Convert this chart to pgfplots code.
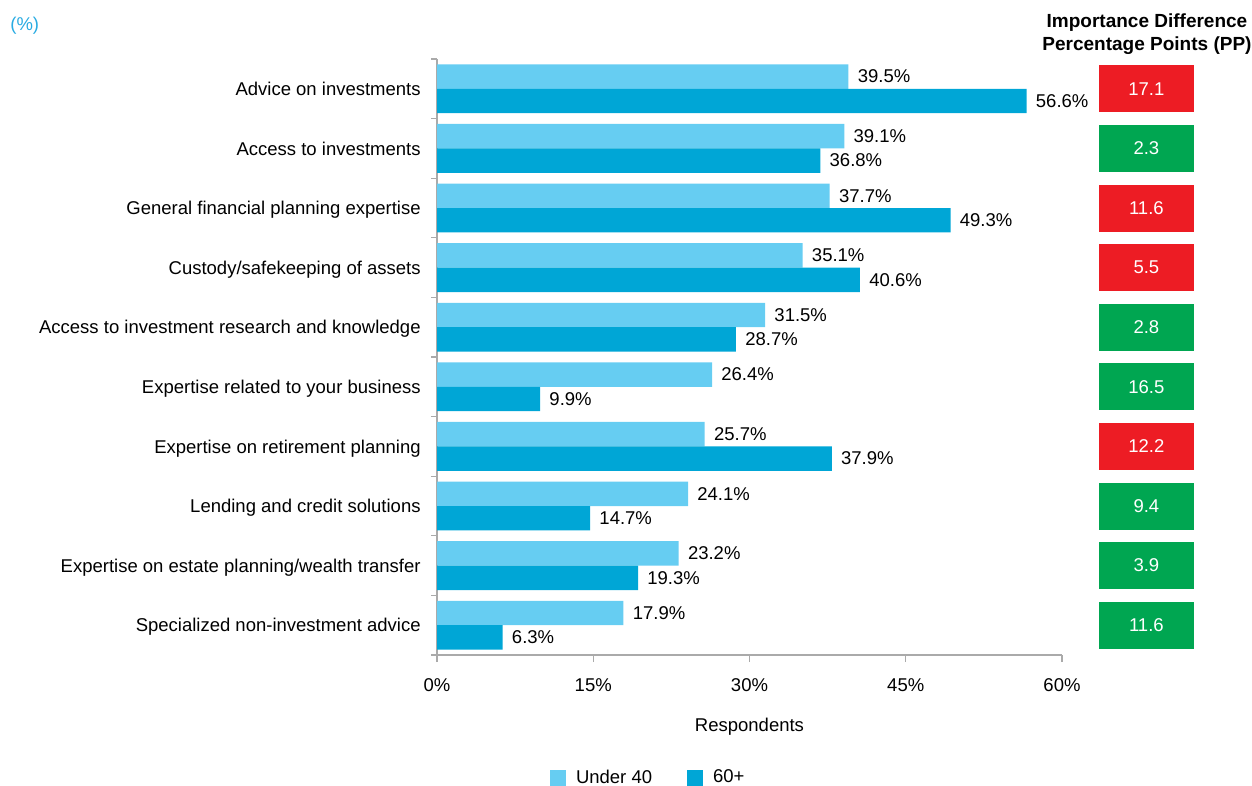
\documentclass[border=0pt]{standalone}
\usepackage{pgfplots}
\pgfplotsset{compat=1.18}
\usepackage{pgfplotstable}
\usepackage{fontspec}
\setmainfont{Liberation Sans}

\definecolor{underc}{RGB}{102,205,242}
\definecolor{sixtyc}{RGB}{0,166,214}
\definecolor{boxred}{RGB}{237,28,36}
\definecolor{boxgreen}{RGB}{0,166,81}
\definecolor{axisgray}{RGB}{170,170,170}
\definecolor{pctcyan}{RGB}{41,171,226}
\newcommand{\f}{\fontsize{18.5}{22}\selectfont}

% y: 9 = top row
\pgfplotstableread{
y under sixty
9 39.5 56.6
8 39.1 36.8
7 37.7 49.3
6 35.1 40.6
5 31.5 28.7
4 26.4 9.9
3 25.7 37.9
2 24.1 14.7
1 23.2 19.3
0 17.9 6.3
}\bars

% difference boxes, x is the column position past the axis
\pgfplotstableread{
x y pp
68.1 9 17.1
68.1 7 11.6
68.1 6 5.5
68.1 3 12.2
}\redpp
\pgfplotstableread{
x y pp
68.1 8 2.3
68.1 5 2.8
68.1 4 16.5
68.1 2 9.4
68.1 1 3.9
68.1 0 11.6
}\greenpp

\begin{document}
\f
\begin{tikzpicture}[font=\f]
\path[use as bounding box] (0,0) rectangle (1252pt,785pt);
\begin{axis}[
    at={(437pt,130pt)}, anchor=south west,
    scale only axis, width=625pt, height=596pt,
    xmin=0, xmax=60, ymin=-0.5, ymax=9.5,
    clip=false,
    axis x line*=bottom, axis y line*=left,
    axis line style={draw=axisgray, line width=1.2pt},
    tick align=outside,
    major tick length=7pt, minor tick length=6pt,
    tick style={draw=axisgray, line width=1.2pt},
    major y tick style={draw=none},
    xtick={0,15,30,45,60},
    xticklabels={0\%,15\%,30\%,45\%,60\%},
    ytick={0,...,9},
    yticklabels={Specialized non-investment advice,
        Expertise on estate planning/wealth transfer,
        Lending and credit solutions,
        Expertise on retirement planning,
        Expertise related to your business,
        Access to investment research and knowledge,
        Custody/safekeeping of assets,
        General financial planning expertise,
        Access to investments,
        Advice on investments},
    minor ytick={-0.5,0.5,...,9.5},
    tick label style={font=\f},
    yticklabel style={anchor=base east, xshift=-3pt, yshift=-6.6pt},
    xticklabel style={yshift=-10pt},
    xlabel={Respondents},
    xlabel style={font=\f, at={(axis description cs:0.5,0)}, anchor=base, yshift=-76pt},
    legend style={font=\f, draw=none, at={(axis description cs:0.338,-0.206)}, anchor=center,
        legend columns=2,
        /tikz/every odd column/.append style={column sep=8pt},
        /tikz/every even column/.append style={column sep=33pt}},
    legend cell align=left,
    legend image code/.code={\fill[#1] (0pt,-8pt) rectangle (16pt,8pt);},
    /pgf/number format/assume math mode=true,
]
\addplot[xbar, bar width=0.41, bar shift=0.205, fill=underc, draw=none,
    point meta=x, nodes near coords={\pgfmathprintnumber[fixed,fixed zerofill,precision=1]{\pgfplotspointmeta}\%},
    every node near coord/.append style={font=\f, anchor=west, xshift=3pt, yshift=12.2pt, text=black}]
    table[x=under, y=y] {\bars};
\addlegendentry{Under 40}
\addplot[xbar, bar width=0.41, bar shift=-0.205, fill=sixtyc, draw=none,
    point meta=x, nodes near coords={\pgfmathprintnumber[fixed,fixed zerofill,precision=1]{\pgfplotspointmeta}\%},
    every node near coord/.append style={font=\f, anchor=west, xshift=3pt, yshift=-12.2pt, text=black}]
    table[x=sixty, y=y] {\bars};
\addlegendentry{60+}
\addplot[forget plot, draw=none, mark=none, point meta=explicit,
    nodes near coords={\pgfmathprintnumber[fixed,fixed zerofill,precision=1]{\pgfplotspointmeta}},
    every node near coord/.append style={font=\f, anchor=center, fill=boxred, text=white,
        minimum width=95pt, minimum height=47pt, inner sep=0pt}]
    table[x=x, y=y, meta=pp] {\redpp};
\addplot[forget plot, draw=none, mark=none, point meta=explicit,
    nodes near coords={\pgfmathprintnumber[fixed,fixed zerofill,precision=1]{\pgfplotspointmeta}},
    every node near coord/.append style={font=\f, anchor=center, fill=boxgreen, text=white,
        minimum width=95pt, minimum height=47pt, inner sep=0pt}]
    table[x=x, y=y, meta=pp] {\greenpp};
\end{axis}
\node[anchor=base west, text=pctcyan] at (4pt,754pt) {(\%)};
\node[anchor=base, font=\bfseries\fontsize{19}{23}\selectfont] at (1147pt,757pt) {Importance Difference};
\node[anchor=base, font=\bfseries\fontsize{19}{23}\selectfont] at (1147pt,734pt) {Percentage Points (PP)};
\end{tikzpicture}
\end{document}
